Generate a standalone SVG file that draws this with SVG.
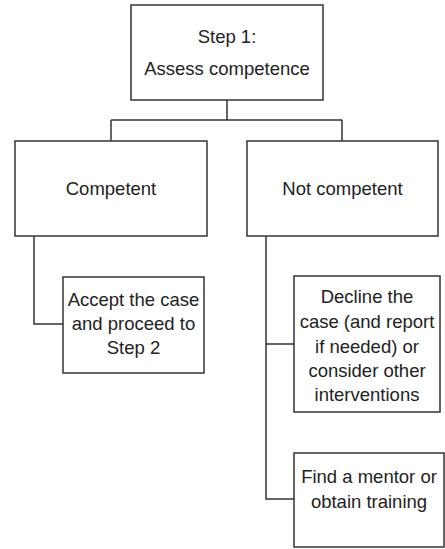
<svg xmlns="http://www.w3.org/2000/svg" width="445" height="549" viewBox="0 0 445 549">
<style>
.box{fill:#fff;stroke:#333;stroke-width:1.5}
.ln{fill:none;stroke:#333;stroke-width:1.5}
text{font-family:"Liberation Sans",Arial,sans-serif;font-size:18.5px;fill:#222;text-anchor:middle}
</style>
<rect width="445" height="549" fill="#fff"/>
<g id="connectors">
<path class="ln" d="M227 100V120M111 120H342M111 120V141M342 120V141"/>
<path class="ln" d="M34 236V324H63"/>
<path class="ln" d="M266 236V499H294M266 344H294"/>
</g>
<g id="step1">
<rect class="box" x="131" y="5" width="192" height="95"/>
<text x="227" y="43">Step 1:</text>
<text x="227" y="75">Assess competence</text>
</g>
<g id="competent">
<rect class="box" x="15" y="141" width="192" height="95"/>
<text x="111" y="195">Competent</text>
</g>
<g id="notcompetent">
<rect class="box" x="247" y="141" width="191" height="95"/>
<text x="342.5" y="195">Not competent</text>
</g>
<g id="accept">
<rect class="box" x="63" y="277" width="141" height="96"/>
<text x="133.5" y="306">Accept the case</text>
<text x="133.5" y="330">and proceed to</text>
<text x="133.5" y="354">Step 2</text>
</g>
<g id="decline">
<rect class="box" x="294" y="276" width="146" height="136"/>
<text x="367" y="303">Decline the</text>
<text x="367" y="328">case (and report</text>
<text x="367" y="353">if needed) or</text>
<text x="367" y="377">consider other</text>
<text x="367" y="401">interventions</text>
</g>
<g id="mentor">
<rect class="box" x="294" y="453" width="150" height="94"/>
<text x="369" y="483">Find a mentor or</text>
<text x="369" y="508">obtain training</text>
</g>
</svg>
